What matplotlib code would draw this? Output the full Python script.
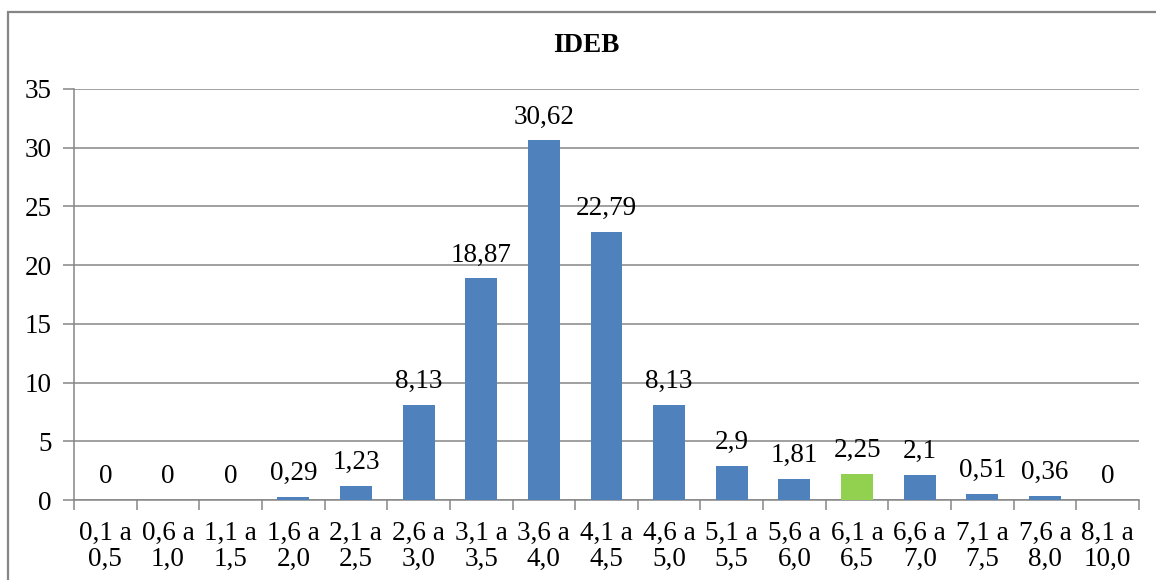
import matplotlib
matplotlib.use("Agg")
import matplotlib.pyplot as plt
from matplotlib.patches import Rectangle
import numpy as np

categories = ["0,1 a\n0,5", "0,6 a\n1,0", "1,1 a\n1,5", "1,6 a\n2,0", "2,1 a\n2,5",
              "2,6 a\n3,0", "3,1 a\n3,5", "3,6 a\n4,0", "4,1 a\n4,5", "4,6 a\n5,0",
              "5,1 a\n5,5", "5,6 a\n6,0", "6,1 a\n6,5", "6,6 a\n7,0", "7,1 a\n7,5",
              "7,6 a\n8,0", "8,1 a\n10,0"]
values = [0, 0, 0, 0.29, 1.23, 8.13, 18.87, 30.62, 22.79, 8.13, 2.9, 1.81, 2.25, 2.1, 0.51, 0.36, 0]
value_labels = ["0", "0", "0", "0,29", "1,23", "8,13", "18,87", "30,62", "22,79", "8,13",
                "2,9", "1,81", "2,25", "2,1", "0,51", "0,36", "0"]
highlight = "6,1 a\n6,5"
y_ticks = [0, 5, 10, 15, 20, 25, 30, 35]

BLUE = "#4F81BD"
GREEN = "#92D050"
GRAY = "#868686"
FS = 19.5

plt.rcParams["font.family"] = ["Liberation Serif", "DejaVu Serif"]

W, H = 1156, 580
fig = plt.figure(figsize=(W / 100, H / 100), dpi=100)
fig.patch.set_facecolor("white")

# outer chart frame
fig.add_artist(Rectangle((8 / W, -0.1), 1.2, (H - 12) / H + 0.1, transform=fig.transFigure,
                         fill=False, edgecolor=GRAY, linewidth=1.6))

left, right, top, bottom = 74, 1139, 89, 500
ax = fig.add_axes([left / W, 1 - bottom / H, (right - left) / W, (bottom - top) / H])

x = np.arange(len(categories))
colors = [GREEN if c == highlight else BLUE for c in categories]
bars = ax.bar(x, values, width=0.51, color=colors, zorder=3)

for xi, v, lab in zip(x, values, value_labels):
    ax.annotate(lab, (xi, v), xytext=(0, 17), textcoords="offset pixels",
                ha="center", va="baseline", fontsize=FS, color="black")

ax.set_xlim(-0.5, len(categories) - 0.5)
ax.set_ylim(0, 35)
ax.set_yticks(y_ticks)
ax.set_yticklabels([str(t) for t in y_ticks], fontsize=FS)
ax.yaxis.grid(True, color=GRAY, linewidth=1.1, zorder=0)
ax.tick_params(axis="y", length=8, width=1.1, color=GRAY, pad=8)

ax.set_xticks(np.arange(-0.5, len(categories)), minor=False)
ax.set_xticklabels([])
ax.set_xticks(x, minor=True)
ax.set_xticklabels(categories, minor=True, fontsize=FS, linespacing=1.05)
ax.tick_params(axis="x", which="major", length=7, width=1.1, color=GRAY)
ax.tick_params(axis="x", which="minor", length=0, pad=15)

for s in ["top", "right"]:
    ax.spines[s].set_visible(False)
for s in ["left", "bottom"]:
    ax.spines[s].set_color(GRAY)
    ax.spines[s].set_linewidth(1.1)

fig.text(586 / W, 1 - 45 / H, "IDEB", ha="center", va="center",
         fontsize=FS, fontweight="bold")

fig.savefig("out.png", dpi=100, facecolor="white")
